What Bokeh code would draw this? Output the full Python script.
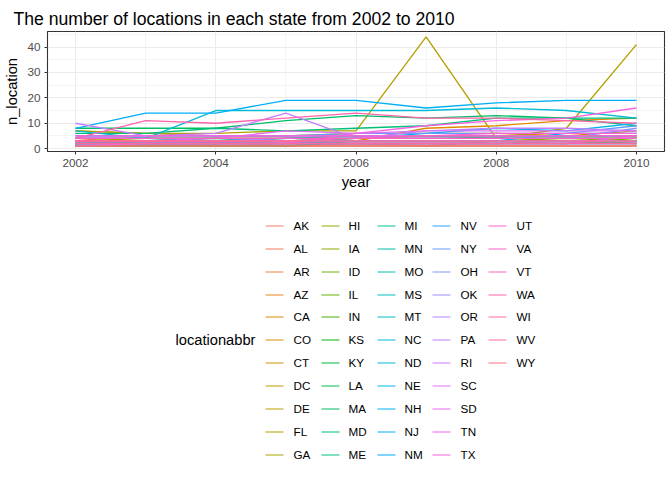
import math
import numpy as np
from bokeh.plotting import figure
from bokeh.models import Range1d, FixedTicker, Title
from bokeh.layouts import column
from bokeh.core.properties import value
from bokeh.embed import file_html
from bokeh.resources import INLINE

years = [2002, 2003, 2004, 2005, 2006, 2007, 2008, 2009, 2010]
states = ["AK", "AL", "AR", "AZ", "CA", "CO", "CT", "DC", "DE", "FL", "GA",
          "HI", "IA", "ID", "IL", "IN", "KS", "KY", "LA", "MA", "MD", "ME",
          "MI", "MN", "MO", "MS", "MT", "NC", "ND", "NE", "NH", "NJ", "NM",
          "NV", "NY", "OH", "OK", "OR", "PA", "RI", "SC", "SD", "TN", "TX",
          "UT", "VA", "VT", "WA", "WI", "WV", "WY"]
n_location = {
    "AK": [4, 2, 2, 2, 2, 2, 2, 3, 2],
    "AL": [1, 2, 1, 1, 2, 1, 3, 3, 3],
    "AR": [1, 1, 2, 3, 3, 3, 3, 3, 3],
    "AZ": [2, 2, 2, 3, 3, 3, 3, 3, 3],
    "CA": [1, 1, 1, 2, 3, 8, 9, 11, 12],
    "CO": [4, 4, 4, 4, 5, 5, 5, 5, 7],
    "CT": [7, 6, 5, 5, 6, 6, 6, 5, 5],
    "DC": [1, 1, 1, 1, 1, 1, 1, 1, 1],
    "DE": [3, 3, 3, 3, 3, 3, 3, 3, 3],
    "FL": [7, 6, 6, 7, 7, 44, 4, 8, 41],
    "GA": [3, 4, 4, 4, 4, 4, 4, 4, 4],
    "HI": [4, 4, 4, 4, 4, 4, 4, 4, 4],
    "IA": [1, 2, 3, 3, 3, 3, 3, 4, 3],
    "ID": [2, 2, 2, 2, 2, 2, 2, 2, 4],
    "IL": [3, 3, 3, 3, 3, 3, 3, 3, 2],
    "IN": [1, 1, 1, 1, 3, 3, 3, 3, 3],
    "KS": [3, 3, 2, 3, 4, 5, 4, 4, 4],
    "KY": [2, 3, 4, 3, 3, 3, 3, 3, 3],
    "LA": [3, 3, 3, 4, 5, 5, 5, 5, 5],
    "MA": [8, 8, 8, 11, 13, 12, 13, 12, 9],
    "MD": [6, 6, 8, 7, 8, 9, 12, 12, 12],
    "ME": [2, 2, 2, 3, 3, 3, 3, 3, 3],
    "MI": [4, 4, 4, 3, 4, 4, 4, 4, 4],
    "MN": [4, 4, 3, 3, 3, 3, 3, 3, 3],
    "MO": [2, 2, 2, 2, 3, 3, 3, 3, 3],
    "MS": [2, 2, 2, 2, 2, 2, 2, 2, 2],
    "MT": [1, 2, 3, 3, 3, 3, 3, 3, 3],
    "NC": [7, 4, 15, 15, 15, 15, 16, 15, 12],
    "ND": [3, 3, 3, 3, 3, 3, 3, 3, 3],
    "NE": [3, 3, 3, 4, 4, 6, 8, 7, 10],
    "NH": [5, 5, 5, 5, 5, 5, 5, 5, 5],
    "NJ": [8, 14, 14, 19, 19, 16, 18, 19, 19],
    "NM": [3, 3, 3, 3, 3, 3, 3, 6, 6],
    "NV": [2, 2, 2, 2, 2, 2, 2, 2, 2],
    "NY": [5, 5, 5, 5, 6, 6, 6, 6, 9],
    "OH": [4, 4, 4, 4, 4, 4, 4, 4, 8],
    "OK": [3, 3, 3, 3, 3, 3, 3, 3, 3],
    "OR": [3, 3, 3, 4, 4, 4, 4, 4, 4],
    "PA": [10, 5, 6, 14, 4, 7, 8, 8, 7],
    "RI": [4, 5, 5, 5, 5, 5, 5, 5, 5],
    "SC": [3, 3, 4, 7, 6, 7, 7, 7, 7],
    "SD": [2, 2, 2, 2, 2, 2, 2, 2, 2],
    "TN": [1, 2, 2, 2, 2, 2, 2, 2, 5],
    "TX": [2, 2, 2, 2, 6, 9, 11, 12, 16],
    "UT": [5, 5, 5, 5, 5, 5, 6, 6, 6],
    "VA": [4, 4, 4, 4, 4, 4, 4, 4, 4],
    "VT": [3, 3, 3, 3, 4, 5, 5, 5, 5],
    "WA": [4, 11, 10, 12, 14, 12, 12, 11, 10],
    "WI": [2, 2, 2, 2, 2, 2, 2, 2, 2],
    "WV": [3, 3, 3, 3, 3, 3, 3, 3, 3],
    "WY": [1, 1, 1, 1, 1, 1, 1, 1, 1],
}
x_ticks = [2002, 2004, 2006, 2008, 2010]
y_ticks = [0, 10, 20, 30, 40]


def hcl_hex(h, c, l):
    hr = math.radians(h)
    U = c * math.cos(hr)
    V = c * math.sin(hr)
    WY, Wu, Wv = 100.0, 0.1978398, 0.4683363
    Y = WY * (((l + 16) / 116) ** 3 if l > 7.999592 else l / 903.3)
    u = U / (13 * l) + Wu
    v = V / (13 * l) + Wv
    X = 9.0 * Y * u / (4 * v)
    Z = -X / 3 - 5 * Y + 3 * Y / v

    def g(t):
        return 1.055 * t ** (1 / 2.4) - 0.055 if t > 0.00304 else 12.92 * t

    r = g((3.240479 * X - 1.537150 * Y - 0.498535 * Z) / WY)
    gg = g((-0.969256 * X + 1.875992 * Y + 0.041556 * Z) / WY)
    b = g((0.055648 * X - 0.204043 * Y + 1.057311 * Z) / WY)
    vals = [max(0, min(255, int(round(255 * max(0, min(1, t)))))) for t in (r, gg, b)]
    return "#%02X%02X%02X" % tuple(vals)


n = len(states)
hues = np.linspace(15, 375, n + 1)[:n]
colors = [hcl_hex(h, 100, 65) for h in hues]

FONT = "Liberation Sans"

all_vals = [v for s in states for v in n_location[s] if v is not None]
ymin, ymax = min(all_vals), max(all_vals)
ypad = 0.05 * (ymax - ymin)
xpad = 0.05 * (years[-1] - years[0])

LEFT, RIGHT_BORDER = 47, 8

p = figure(width=672, height=200, output_backend="svg", toolbar_location=None,
           x_range=Range1d(years[0] - xpad, years[-1] + xpad),
           y_range=Range1d(ymin - ypad, ymax + ypad),
           min_border_left=LEFT, min_border_right=RIGHT_BORDER, min_border_top=31,
           min_border_bottom=49)
p.background_fill_color = "white"
p.border_fill_color = "white"
p.outline_line_color = "#333333"
p.outline_line_width = 1.1

t = Title(text="The number of locations in each state from 2002 to 2010",
          text_font=FONT, text_font_size="17.6px", text_font_style="normal",
          text_color="black", align="left", offset=-34, standoff=6)
p.add_layout(t, "above")

for s, col in zip(states, colors):
    ys = [np.nan if v is None else v for v in n_location[s]]
    p.line(years, ys, line_color=col, line_width=1.35)

p.xaxis.ticker = FixedTicker(ticks=x_ticks, minor_ticks=[2003, 2005, 2007, 2009])
p.yaxis.ticker = FixedTicker(ticks=y_ticks, minor_ticks=[5, 15, 25, 35, 45])
p.xaxis.axis_label = "year"
p.yaxis.axis_label = "n_location"
for ax in (p.xaxis, p.yaxis):
    ax.axis_line_color = None
    ax.major_tick_line_color = "#333333"
    ax.major_tick_line_width = 1.07
    ax.major_tick_in = 0
    ax.major_tick_out = 3
    ax.minor_tick_line_color = None
    ax.major_label_text_font = FONT
    ax.major_label_text_font_size = "11.7px"
    ax.major_label_text_color = "#4D4D4D"
    ax.major_label_standoff = 3
    ax.axis_label_text_font = FONT
    ax.axis_label_text_font_size = "14.7px"
    ax.axis_label_text_font_style = "normal"
    ax.axis_label_text_color = "black"
    ax.axis_label_standoff = 4

for gr in (p.xgrid, p.ygrid):
    gr.grid_line_color = "#EBEBEB"
    gr.grid_line_width = 1.07
    gr.minor_grid_line_color = "#EBEBEB"
    gr.minor_grid_line_width = 0.55

# legend figure: its frame spans page x from LEFT to 672-RIGHT_BORDER,
# so the x range is given in page pixel coordinates
lg = figure(width=672, height=280, output_backend="svg", toolbar_location=None,
            x_range=Range1d(LEFT, 672 - RIGHT_BORDER), y_range=Range1d(480, 200),
            min_border_left=LEFT, min_border_right=RIGHT_BORDER,
            min_border_top=0, min_border_bottom=0,
            x_axis_type=None, y_axis_type=None)
lg.outline_line_color = None
lg.xgrid.visible = False
lg.ygrid.visible = False

nrows = 11
row0, drow = 224.8, 22.9
key0, dcol, keylen, lab0 = 265.0, 55.8, 18.3, 292.7
kx0, kx1, ky, ty, lx = [], [], [], [], []
for i, s in enumerate(states):
    r, c = i % nrows, i // nrows
    x0 = round(key0 + dcol * c)
    kx0.append(x0)
    kx1.append(x0 + round(keylen))
    yy = round(row0 + drow * r)
    ky.append(yy + 0.5)
    ty.append(yy)
    lx.append(round(lab0 + dcol * c))
lg.segment(x0=kx0, y0=ky, x1=kx1, y1=ky, line_color=colors, line_width=1.0)
lg.text(x=lx, y=ty, text=states, text_font=value(FONT), text_font_size="11.7px",
        text_baseline="middle", text_align="left", text_color="black")
lg.text(x=[255], y=[round(row0 + drow * 5)], text=["locationabbr"], text_font=value(FONT),
        text_font_size="14.7px", text_baseline="middle", text_align="right",
        text_color="black")

layout = column(p, lg, spacing=0)
open("out.html", "w").write(file_html(layout, INLINE))
